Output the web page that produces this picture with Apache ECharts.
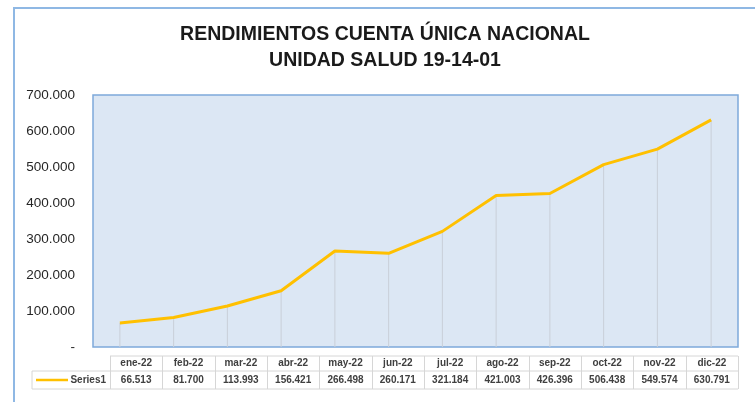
<!DOCTYPE html>
<html><head><meta charset="utf-8">
<script src="https://cdn.jsdelivr.net/npm/echarts@6/dist/echarts.min.js"></script>
<style>html,body{margin:0;padding:0;background:#fff}#c{width:755px;height:402px}</style>
</head><body><div id="c"></div>
<script>
const categories = ['ene-22','feb-22','mar-22','abr-22','may-22','jun-22','jul-22','ago-22','sep-22','oct-22','nov-22','dic-22'];
const series1 = [66513, 81700, 113993, 156421, 266498, 260171, 321184, 421003, 426396, 506438, 549574, 630791];
const seriesName = 'Series1';
const titleLines = ['RENDIMIENTOS CUENTA ÚNICA NACIONAL', 'UNIDAD SALUD 19-14-01'];

function fmt(v){ return v === 0 ? '-' : String(v).replace(/\B(?=(\d{3})+(?!\d))/g, '.'); }

const chart = echarts.init(document.getElementById('c'));
const FONT = 'Liberation Sans';

// data table layout
const tX0 = 110, tX1 = 738, tLegX = 32, tTop = 356, tMid = 371, tBot = 389;
const colW = (tX1 - tX0) / categories.length;
const border = '#d6d6d6';
const g = [];
// outer frame
g.push({type:'polyline', shape:{points:[[14,420],[14,8],[770,8]]}, style:{stroke:'#8fb8e4', lineWidth:2, fill:null}, silent:true});
// table lines
g.push({type:'line', shape:{x1:tX0,y1:tTop,x2:tX1,y2:tTop}, style:{stroke:border,lineWidth:1}});
g.push({type:'line', shape:{x1:tLegX,y1:tMid,x2:tX1,y2:tMid}, style:{stroke:border,lineWidth:1}});
g.push({type:'line', shape:{x1:tLegX,y1:tBot,x2:tX1,y2:tBot}, style:{stroke:border,lineWidth:1}});
g.push({type:'line', shape:{x1:tLegX,y1:tMid,x2:tLegX,y2:tBot}, style:{stroke:border,lineWidth:1}});
for (let i = 0; i <= categories.length; i++) {
  const x = Math.round(tX0 + i * colW) + 0.5;
  g.push({type:'line', shape:{x1:x,y1:tTop,x2:x,y2:tBot}, style:{stroke:border,lineWidth:1}});
}
categories.forEach((c, i) => {
  const cx = tX0 + (i + 0.5) * colW;
  g.push({type:'text', style:{text:c, x:cx, y:(tTop+tMid)/2, align:'center', verticalAlign:'middle', font:'bold 10px '+FONT, fill:'#404040'}});
  g.push({type:'text', style:{text:fmt(series1[i]), x:cx, y:(tMid+tBot)/2, align:'center', verticalAlign:'middle', font:'bold 10px '+FONT, fill:'#404040'}});
});
g.push({type:'line', shape:{x1:36,y1:(tMid+tBot)/2,x2:68,y2:(tMid+tBot)/2}, style:{stroke:'#ffc000',lineWidth:2.5}});
g.push({type:'text', style:{text:seriesName, x:106, y:(tMid+tBot)/2, align:'right', verticalAlign:'middle', font:'bold 10px '+FONT, fill:'#404040'}});
// titles
g.push({type:'text', style:{text:titleLines[0], x:385, y:35, align:'center', verticalAlign:'middle', font:'bold 19.5px '+FONT, fill:'#1a1a1a'}});
g.push({type:'text', style:{text:titleLines[1], x:385, y:61, align:'center', verticalAlign:'middle', font:'bold 19.5px '+FONT, fill:'#1a1a1a'}});

chart.setOption({
  animation:false,
  grid:{left:93, top:95, width:645, height:252, show:true, backgroundColor:'#dce7f4', borderColor:'#7ea9da', borderWidth:1.5, containLabel:false},
  xAxis:{type:'category', data:categories, boundaryGap:true, axisLine:{show:false}, axisTick:{show:false}, axisLabel:{show:false}, splitLine:{show:false}},
  yAxis:{type:'value', min:0, max:700000, interval:100000,
    axisLine:{show:false}, axisTick:{show:false}, splitLine:{show:false},
    axisLabel:{formatter:fmt, fontFamily:FONT, fontSize:13.5, color:'#262626', margin:18}},
  series:[
    {type:'bar', data:series1, barWidth:1, itemStyle:{color:'#c9cfd8'}, silent:true, z:1},
    {type:'line', name:seriesName, data:series1, symbol:'none', lineStyle:{color:'#ffc000', width:3}, itemStyle:{color:'#ffc000'}, z:3}
  ],
  graphic:g
});
</script></body></html>
